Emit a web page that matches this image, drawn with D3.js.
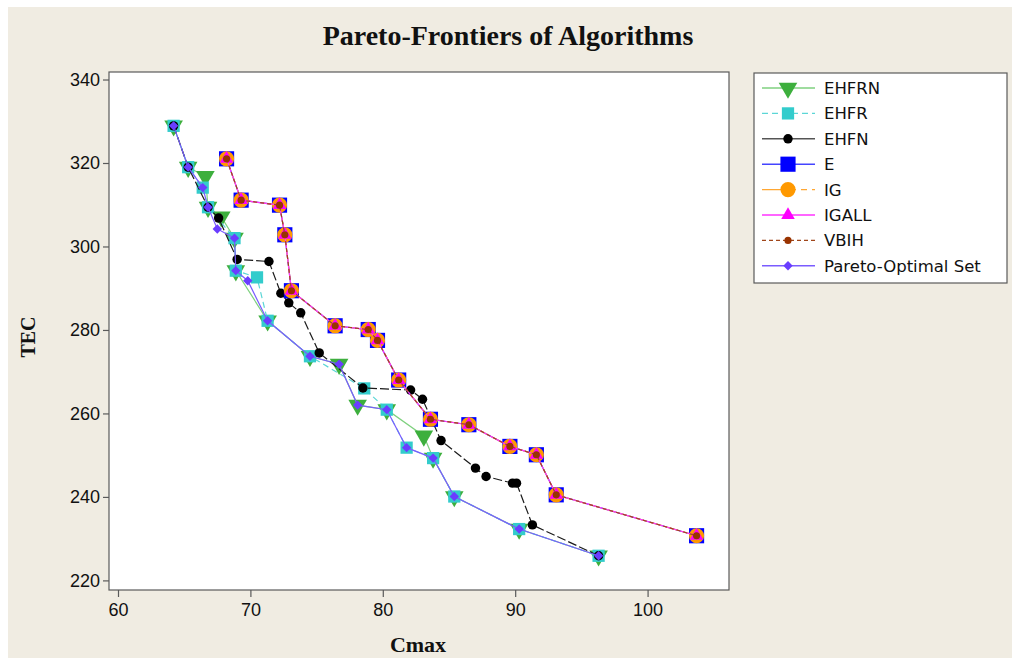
<!DOCTYPE html>
<html>
<head>
<meta charset="utf-8">
<script src="https://cdn.jsdelivr.net/npm/d3@7"></script>
<style>
  html, body { margin: 0; padding: 0; background: #ffffff; }
  svg { display: block; }
</style>
</head>
<body>
<svg id="chart" width="1012" height="660"></svg>
<script>
// ---- Data: Cmax / TEC points of each algorithm's Pareto frontier ----
const ehfrnCmax = [64.2, 65.3, 66.6, 66.8, 67.8, 68.8, 68.9, 71.3, 74.5, 76.7, 78.1, 80.3, 83.1, 83.8, 85.4, 90.3, 96.3];
const ehfrnTec  = [328.9, 319.0, 316.8, 309.4, 307.1, 302.0, 294.2, 282.2, 273.7, 271.8, 262.0, 260.9, 254.6, 249.3, 240.1, 232.3, 225.9];

const ehfrCmax = [64.2, 65.3, 66.4, 66.8, 68.8, 68.9, 70.5, 71.3, 74.5, 78.6, 80.3, 81.8, 83.8, 85.4, 90.3, 96.3];
const ehfrTec  = [328.9, 319.0, 314.1, 309.4, 302.0, 294.2, 292.6, 282.2, 273.7, 266.0, 260.9, 251.8, 249.3, 240.1, 232.3, 225.9];

const ehfnCmax = [64.2, 65.3, 66.8, 67.6, 69.0, 71.4, 72.3, 72.9, 73.8, 75.2, 78.5, 82.1, 83.0, 84.4, 87.0, 87.8, 89.8, 90.1, 91.3, 96.3];
const ehfnTec  = [328.9, 319.0, 309.4, 306.8, 296.9, 296.4, 288.8, 286.5, 284.1, 274.5, 266.1, 265.6, 263.4, 253.5, 246.9, 244.9, 243.3, 243.3, 233.3, 225.9];

// E, IG, IGALL and VBIH returned the same frontier
const frontCmax = [68.2, 69.3, 72.2, 72.6, 73.1, 76.4, 78.9, 79.6, 81.2, 83.6, 86.5, 89.6, 91.6, 93.1, 103.7];
const frontTec  = [321.0, 311.1, 309.9, 302.8, 289.4, 281.0, 280.1, 277.5, 268.0, 258.6, 257.3, 252.1, 250.1, 240.5, 230.7];

const paretoCmax = [64.2, 65.3, 66.4, 66.8, 67.5, 68.8, 68.9, 69.8, 71.3, 74.5, 76.7, 78.1, 80.3, 81.8, 83.8, 85.4, 90.3, 96.3];
const paretoTec  = [328.9, 319.0, 314.1, 309.4, 304.2, 302.0, 294.2, 291.8, 282.2, 273.7, 271.8, 262.0, 260.9, 251.8, 249.3, 240.1, 232.3, 225.9];

const seriesNames = ["EHFRN", "EHFR", "EHFN", "E", "IG", "IGALL", "VBIH", "Pareto-Optimal Set"];
const xTicks = [60, 70, 80, 90, 100];
const yTicks = [220, 240, 260, 280, 300, 320, 340];

const zip = (xs, ys) => xs.map((v, i) => ({ x: v, y: ys[i] }));

// ---- Series styling ----
const diamond = { draw(ctx, size) { const r = Math.sqrt(size / 2); ctx.moveTo(0, -r); ctx.lineTo(r, 0); ctx.lineTo(0, r); ctx.lineTo(-r, 0); ctx.closePath(); } };

const series = [
  { name: seriesNames[0], pts: zip(ehfrnCmax, ehfrnTec), line: "#7fd17f", dash: null, legendDash: null, sym: d3.symbolTriangle, size: 150, rot: 180, fill: "#3daf3d" },
  { name: seriesNames[1], pts: zip(ehfrCmax, ehfrTec), line: "#5cd6d6", dash: "6,4", legendDash: "6,4", sym: d3.symbolSquare, size: 150, rot: 0, fill: "#33cccc" },
  { name: seriesNames[2], pts: zip(ehfnCmax, ehfnTec), line: "#1a1a1a", dash: "9,3", legendDash: null, sym: d3.symbolCircle, size: 70, rot: 0, fill: "#000000" },
  { name: seriesNames[3], pts: zip(frontCmax, frontTec), line: "#4444ff", dash: null, legendDash: null, sym: d3.symbolSquare, size: 230, rot: 0, fill: "#0000ff" },
  { name: seriesNames[4], pts: zip(frontCmax, frontTec), line: "#ffa733", dash: "12,4", legendDash: "22,6,6,5,6,5", sym: d3.symbolCircle, size: 180, rot: 0, fill: "#ff9900" },
  { name: seriesNames[5], pts: zip(frontCmax, frontTec), line: "#ff33ff", dash: null, legendDash: null, sym: d3.symbolTriangle, size: 80, rot: 0, fill: "#ff00ff" },
  { name: seriesNames[6], pts: zip(frontCmax, frontTec), line: "#a0461a", dash: "4,3", legendDash: "4,3", sym: d3.symbolCircle, size: 40, rot: 0, fill: "#993300" },
  { name: seriesNames[7], pts: zip(paretoCmax, paretoTec), line: "#7a5cff", dash: null, legendDash: null, sym: diamond, size: 44, rot: 0, fill: "#6a3dff" }
];

// ---- Layout ----
const svg = d3.select("#chart");
const plot = { left: 109, right: 729, top: 72, bottom: 590 };

svg.append("rect").attr("x", 8).attr("y", 7).attr("width", 1004).attr("height", 651).attr("fill", "#f0ece2");

const x = d3.scaleLinear().domain([59.32, 106.15]).range([plot.left, plot.right]);
const y = d3.scaleLinear().domain([217.7, 341.8]).range([plot.bottom, plot.top]);

// plot panel
svg.append("rect")
  .attr("x", plot.left).attr("y", plot.top)
  .attr("width", plot.right - plot.left).attr("height", plot.bottom - plot.top)
  .attr("fill", "#ffffff").attr("stroke", "#5a5a5a").attr("stroke-width", 1.2);

// axes
const xAxis = svg.append("g").attr("transform", `translate(0,${plot.bottom})`)
  .call(d3.axisBottom(x).tickValues(xTicks).tickSize(7).tickPadding(6).tickFormat(d3.format("d")));
const yAxis = svg.append("g").attr("transform", `translate(${plot.left},0)`)
  .call(d3.axisLeft(y).tickValues(yTicks).tickSize(6).tickPadding(3).tickFormat(d3.format("d")));
[xAxis, yAxis].forEach(g => {
  g.select(".domain").remove();
  g.selectAll(".tick line").attr("stroke", "#5a5a5a").attr("stroke-width", 1.2);
  g.selectAll(".tick text").attr("fill", "#111").style("font-family", "'Liberation Sans', Arial, sans-serif").style("font-size", "18px");
});

// titles
svg.append("text").attr("x", 508).attr("y", 45).attr("text-anchor", "middle")
  .style("font-family", "'Liberation Serif', 'Times New Roman', serif").style("font-weight", "bold").style("font-size", "28px")
  .attr("fill", "#111").text("Pareto-Frontiers of Algorithms");
svg.append("text").attr("x", 418).attr("y", 652).attr("text-anchor", "middle")
  .style("font-family", "'Liberation Serif', 'Times New Roman', serif").style("font-weight", "bold").style("font-size", "22px")
  .attr("fill", "#111").text("Cmax");
svg.append("text").attr("transform", "translate(35,337) rotate(-90)").attr("text-anchor", "middle")
  .style("font-family", "'Liberation Serif', 'Times New Roman', serif").style("font-weight", "bold").style("font-size", "20px")
  .attr("fill", "#111").text("TEC");

// series: line, then markers, drawn in legend order
const lineGen = d3.line().x(d => x(d.x)).y(d => y(d.y));
const gSeries = svg.append("g");
series.forEach(s => {
  const g = gSeries.append("g");
  g.append("path").datum(s.pts).attr("d", lineGen)
    .attr("fill", "none").attr("stroke", s.line).attr("stroke-width", 1.2)
    .attr("stroke-dasharray", s.dash);
  g.selectAll("path.mark").data(s.pts).join("path").attr("class", "mark")
    .attr("d", d3.symbol().type(s.sym).size(s.size))
    .attr("transform", d => `translate(${x(d.x)},${y(d.y)}) rotate(${s.rot})`)
    .attr("fill", s.fill);
});

// legend
const lg = svg.append("g");
lg.append("rect").attr("x", 754).attr("y", 73).attr("width", 253).attr("height", 210)
  .attr("fill", "#ffffff").attr("stroke", "#5a5a5a").attr("stroke-width", 1.2);
series.forEach((s, i) => {
  const cy = 88 + i * 25.4;
  lg.append("line").attr("x1", 762).attr("x2", 815).attr("y1", cy).attr("y2", cy)
    .attr("stroke", i === 2 ? "#555555" : s.line).attr("stroke-width", 1.4).attr("stroke-dasharray", s.legendDash);
  lg.append("path").attr("d", d3.symbol().type(s.sym).size(s.size)())
    .attr("transform", `translate(788,${cy}) rotate(${s.rot})`).attr("fill", s.fill);
  lg.append("text").attr("x", 824).attr("y", cy).attr("dy", "0.36em")
    .style("font-family", "'DejaVu Sans', Verdana, sans-serif").style("font-size", "16.5px")
    .attr("fill", "#111").text(s.name);
});
</script>
</body>
</html>
